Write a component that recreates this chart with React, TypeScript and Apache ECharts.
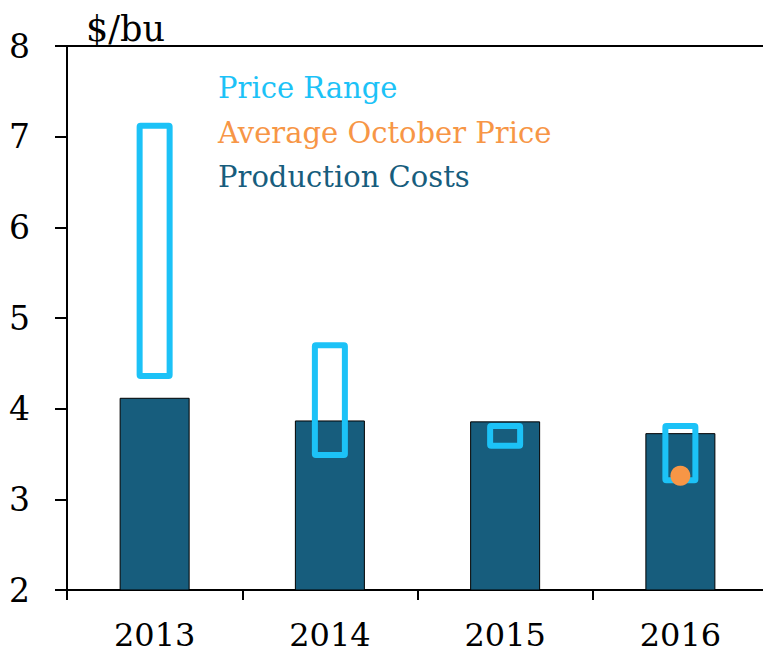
import React, { useEffect, useRef } from "react";
import * as echarts from "echarts";

const categories = ["2013", "2014", "2015", "2016"];
const productionCosts = [4.12, 3.87, 3.86, 3.73];
const priceLow = [4.36, 3.49, 3.59, 3.21];
const priceHigh = [7.12, 4.7, 3.81, 3.81];
const avgOctoberPrice: (number | string)[] = ["-", "-", "-", 3.26];
const yTicks = { min: 2, max: 8, interval: 1 };

const CYAN = "#1CC2F7";
const ORANGE = "#F79646";
const TEAL = "#175D7D";
const FONT = "DejaVu Serif";

export default function App() {
  const ref = useRef<HTMLDivElement>(null);
  useEffect(() => {
    document.body.style.margin = "0";
    const chart = echarts.init(ref.current!, null, { renderer: "svg" });
    const rangeData = categories.map((_, i) => [i, priceLow[i], priceHigh[i]]);
    chart.setOption({
      animation: false,
      backgroundColor: "#ffffff",
      textStyle: { fontFamily: FONT },
      title: {
        text: "$/bu",
        left: 81,
        top: 6,
        textStyle: { fontFamily: FONT, fontSize: 35, fontWeight: "normal", color: "#000" },
      },
      legend: {
        orient: "vertical",
        left: 208,
        top: 61,
        icon: "none",
        itemWidth: 0,
        itemHeight: 0,
        itemGap: 0,
        selectedMode: false,
        textStyle: { fontFamily: FONT, fontSize: 29, lineHeight: 44.5 },
        data: [
          { name: "Price Range", textStyle: { color: CYAN } },
          { name: "Average October Price", textStyle: { color: ORANGE } },
          { name: "Production Costs", textStyle: { color: TEAL } },
        ],
      },
      grid: { left: 67, width: 701, top: 46, bottom: 64, containLabel: false, outerBoundsMode: "none" },
      xAxis: [
        {
          type: "category",
          data: categories,
          axisLine: { lineStyle: { color: "#000", width: 2 } },
          axisTick: { show: true, length: 10, lineStyle: { color: "#000", width: 2 } },
          axisLabel: { fontFamily: FONT, fontSize: 32, lineHeight: 32, color: "#000", margin: 29 },
        },
        {
          type: "category",
          position: "top",
          data: categories,
          axisLine: { show: true, lineStyle: { color: "#000", width: 2 } },
          axisTick: { show: false },
          axisLabel: { show: false },
        },
      ],
      yAxis: {
        type: "value",
        min: yTicks.min,
        max: yTicks.max,
        interval: yTicks.interval,
        splitLine: { show: false },
        axisLine: { show: true, lineStyle: { color: "#000", width: 2 } },
        axisTick: { show: true, length: 12, lineStyle: { color: "#000", width: 2 } },
        axisLabel: { fontFamily: FONT, fontSize: 33, color: "#000", margin: 37 },
      },
      series: [
        {
          name: "Production Costs",
          type: "bar",
          data: productionCosts,
          barWidth: 70,
          itemStyle: { color: TEAL, borderColor: "#000", borderWidth: 1 },
          z: 2,
        },
        {
          name: "Price Range",
          type: "custom",
          data: rangeData,
          encode: { x: 0, y: [1, 2] },
          z: 3,
          renderItem: (params: any, api: any) => {
            const x = api.coord([api.value(0), api.value(1)]);
            const top = api.coord([api.value(0), api.value(2)]);
            const w = 30;
            return {
              type: "rect",
              shape: { x: x[0] - w / 2, y: top[1], width: w, height: x[1] - top[1], r: 1 },
              style: { fill: "none", stroke: CYAN, lineWidth: 6, lineJoin: "round" },
            };
          },
        },
        {
          name: "Average October Price",
          type: "scatter",
          data: avgOctoberPrice,
          symbolSize: 20,
          itemStyle: { color: ORANGE, opacity: 1 },
          z: 4,
        },
      ],
    });
    return () => chart.dispose();
  }, []);
  return <div ref={ref} style={{ width: 763, height: 654 }} />;
}
